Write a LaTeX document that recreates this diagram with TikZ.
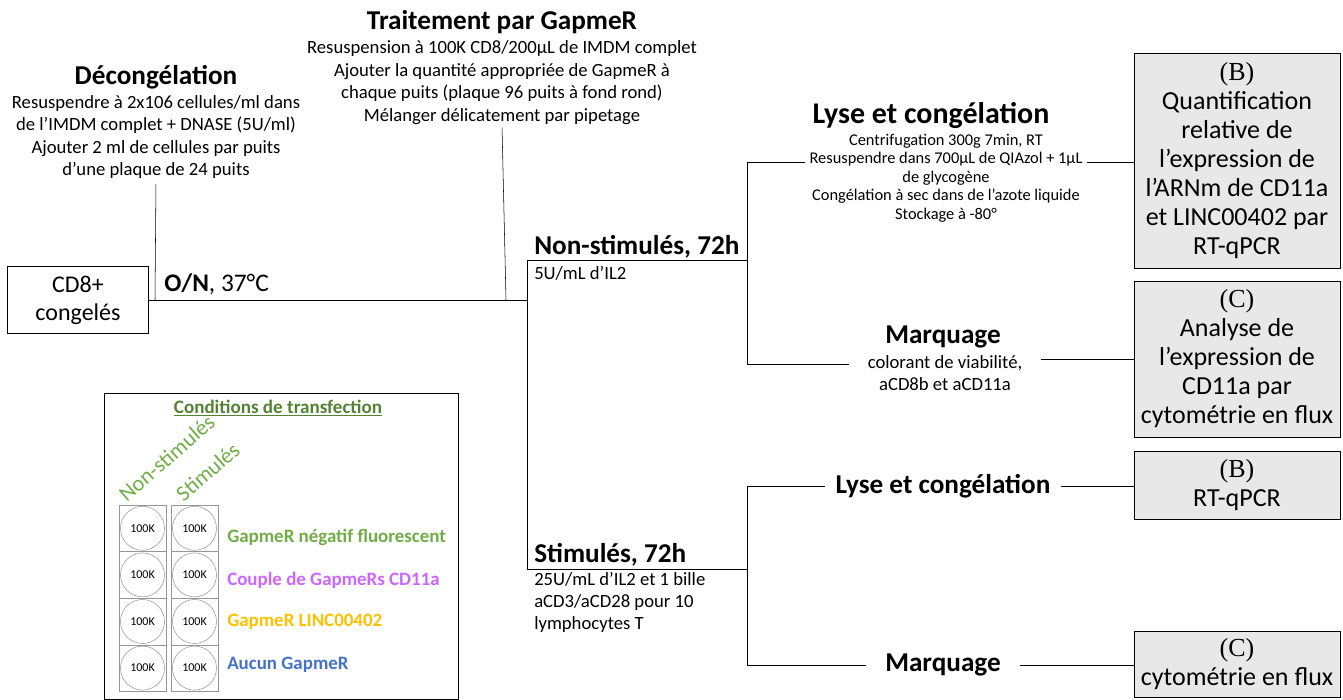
\documentclass[tikz,border=0pt]{standalone}
\usepackage{fontspec}
\setmainfont{Carlito}
\newfontfamily\tnr{Liberation Serif}
\usepackage{tikz}

\definecolor{boxgray}{RGB}{232,232,232}
\definecolor{wellgray}{RGB}{150,150,150}
\definecolor{ttlgreen}{RGB}{84,130,53}
\definecolor{lgreen}{RGB}{112,173,71}
\definecolor{lpurple}{RGB}{204,102,255}
\definecolor{lorange}{RGB}{255,192,0}
\definecolor{lblue}{RGB}{68,114,196}

\begin{document}
\begin{tikzpicture}[x=0.75pt,y=0.75pt,yscale=-1,xscale=1,
  ttl/.style={font=\bfseries\fontsize{20.4}{22}\selectfont, inner sep=0.75pt},
  body/.style={font=\fontsize{14}{16.9}\selectfont, align=center, inner sep=0.75pt},
  small/.style={font=\fontsize{14}{16.5}\selectfont, align=center, inner sep=0.75pt},
  resbox/.style={draw, fill=boxgray, minimum width=154.5pt, align=center, font=\fontsize{19.5}{21.75}\selectfont},
  well/.style={draw=wellgray, circle, minimum size=33pt, inner sep=0pt, font=\fontsize{9}{10}\selectfont},
  wellsq/.style={draw=wellgray, minimum width=35.25pt, minimum height=35pt, inner sep=0pt},
  lgd/.style={font=\bfseries\fontsize{14.2}{16}\selectfont, anchor=west, inner sep=0.75pt}]
\useasboundingbox (0,0) rectangle (1343,700);

% Junctions
\coordinate (dj) at (155,300);
\coordinate (tj) at (506,300);
\coordinate (junc) at (527,300);
\coordinate (nsL) at (527,260);
\coordinate (stL) at (527,569);
\coordinate (nsR) at (747,260);
\coordinate (stR) at (747,569);
\coordinate (la) at (747,162);
\coordinate (ma) at (747,364);
\coordinate (lb) at (747,486);
\coordinate (mb) at (747,665);

% Text Node
\node [draw, minimum width=105.75pt, minimum height=50.25pt, align=center, font=\fontsize{18}{21}\selectfont] (cd8) at (78,300) {CD8+\\congelés};
% Text Node
\node [ttl] (decT) at (156,77) {Décongélation};
\node [body] (decB) at (156,137) {Resuspendre à 2x106 cellules/ml dans\\de l’IMDM complet + DNASE (5U/ml)\\Ajouter 2 ml de cellules par puits\\d’une plaque de 24 puits};
% Text Node
\node [ttl] (traT) at (502,22) {Traitement par GapmeR};
\node [body] (traB) at (502,82.5) {Resuspension à 100K CD8/200µL de IMDM complet\\Ajouter la quantité appropriée de GapmeR à\\chaque puits (plaque 96 puits à fond rond)\\Mélanger délicatement par pipetage};
% Text Node
\node [anchor=west, inner sep=0.75pt, font=\fontsize{19}{22}\selectfont] (on) at (163,284) {\textbf{O/N}, 37°C};

% Straight Lines
\draw [shorten <=3pt] (decB.south) -- (dj);
\draw [shorten <=1.5pt] (traB.south) -- (tj);
\draw (cd8.east) -- (junc);
\draw (nsR) -- (nsL) -- (stL) -- (stR);

% Text Node
\node [ttl, anchor=south west] (nsT) at (533,259) {Non-stimulés, 72h};
\node [small, anchor=north west, align=left] (nsB) at (533,265) {5U/mL d’IL2};
\node [ttl, anchor=south west] (stT) at (533,567) {Stimulés, 72h};
\node [small, anchor=north west, align=left] (stB) at (533,571) {25U/mL d’IL2 et 1 bille\\aCD3/aCD28 pour 10\\lymphocytes T};

% Text Node
\node [ttl, font=\bfseries\fontsize{22.5}{24}\selectfont] (lyA) at (931,115) {Lyse et congélation};
\node [small, font=\fontsize{12.3}{13.9}\selectfont, outer xsep=3pt] (lyAB) at (946,178) {Centrifugation 300g 7min, RT\\Resuspendre dans 700µL de QIAzol + 1µL\\de glycogène\\Congélation à sec dans de l’azote liquide\\Stockage à -80°};
\node [ttl] (maA) at (943,337) {Marquage};
\node [small, outer xsep=13pt] (maAB) at (945,373) {colorant de viabilité,\\aCD8b et aCD11a};
\node [ttl, outer xsep=7pt] (lyB) at (943,486) {Lyse et congélation};
\node [ttl, outer xsep=14pt] (maB) at (943,665) {Marquage};

% Shape: Boxes
\node [resbox, minimum height=161.25pt] (resB1) at (1237,160.5) {{\tnr(B)}\\Quantification\\relative de\\l’expression de\\l’ARNm de CD11a\\et LINC00402 par\\RT-qPCR};
\node [resbox, minimum height=117pt] (resC1) at (1237,359) {{\tnr(C)}\\Analyse de\\l’expression de\\CD11a par\\cytométrie en flux};
\node [resbox, minimum height=51pt] (resB2) at (1237,485) {{\tnr(B)}\\RT-qPCR};
\node [resbox, minimum height=49.5pt] (resC2) at (1237,664) {{\tnr(C)}\\cytométrie en flux};

% Straight Lines
\draw (la -| lyAB.west) -- (la) -- (ma) -- (ma -| maAB.west);
\draw (la -| lyAB.east) -- (la -| resB1.west);
\draw (maAB.east |- 0,359) -- (resC1.west |- 0,359);
\draw (lb -| lyB.west) -- (lb) -- (mb) -- (mb -| maB.west);
\draw (lyB.east) -- (lyB.east -| resB2.west);
\draw (maB.east) -- (maB.east -| resC2.west);

% Legend
\draw (104,393) rectangle (458,699);
\node [font=\bfseries\fontsize{14.3}{16}\selectfont, text=ttlgreen, inner sep=0.75pt] (lgT) at (278,408) {\underline{Conditions de transfection}};
\node [rotate=41, anchor=south west, inner sep=0pt, text=lgreen, font=\fontsize{16.5}{18}\selectfont] (lgNS) at (127,503) {Non-stimulés};
\node [rotate=41, anchor=south west, inner sep=0pt, text=lgreen, font=\fontsize{16.5}{18}\selectfont] (lgST) at (184,503) {Stimulés};
\foreach \c/\x in {1/142.5,2/194.5}
  \foreach \r in {1,...,4}
  {
    \node [wellsq] (sq\c\r) at (\x,{505+46.6*(\r-0.5)}) {};
    \node [well] (w\c\r) at (sq\c\r) {100K};
  }
\node [lgd, text=lgreen] (g1) at (226,537) {GapmeR négatif fluorescent};
\node [lgd, text=lpurple] (g2) at (226,580) {Couple de GapmeRs CD11a};
\node [lgd, text=lorange] (g3) at (226,622) {GapmeR LINC00402};
\node [lgd, text=lblue] (g4) at (226,665) {Aucun GapmeR};
\end{tikzpicture}
\end{document}
